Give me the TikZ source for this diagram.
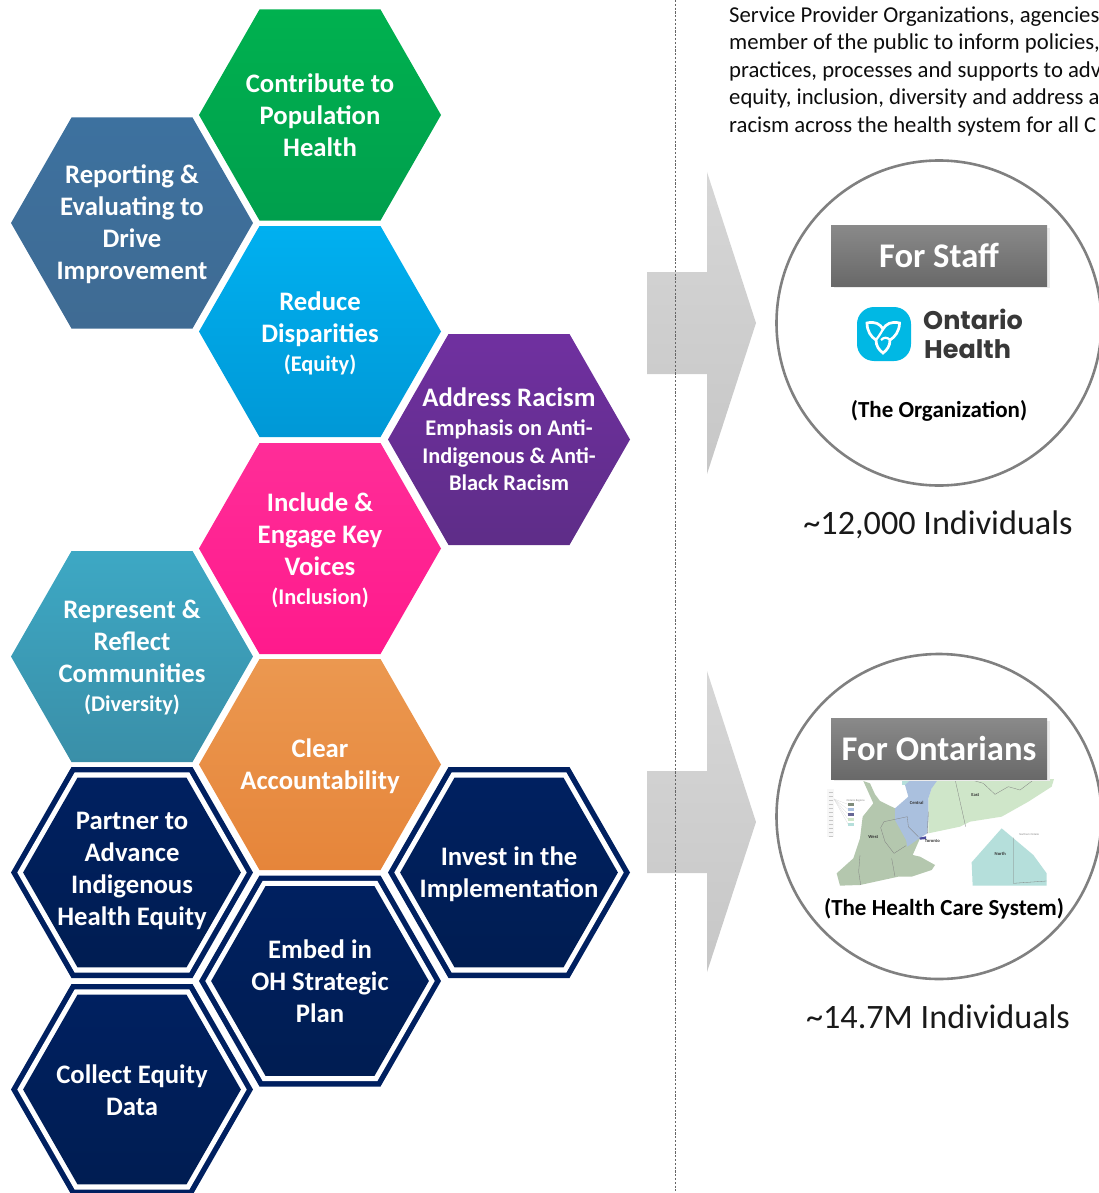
\documentclass[tikz,border=0pt]{standalone}
\usepackage{fontspec}
\setmainfont{Carlito}
\newfontfamily\ohfont{Poppins}
\definecolor{gA}{HTML}{00B14F}\definecolor{gB}{HTML}{009F4D}
\definecolor{bA}{HTML}{3D719F}\definecolor{bB}{HTML}{3F6B93}
\definecolor{cA}{HTML}{00B0F0}\definecolor{cB}{HTML}{0098D6}
\definecolor{pA}{HTML}{7030A0}\definecolor{pB}{HTML}{5E2D88}
\definecolor{kA}{HTML}{FF2D98}\definecolor{kB}{HTML}{FF1A8C}
\definecolor{tA}{HTML}{3DA8C4}\definecolor{tB}{HTML}{3A8FA8}
\definecolor{oA}{HTML}{EB9850}\definecolor{oB}{HTML}{E6853A}
\definecolor{nA}{HTML}{002060}\definecolor{nB}{HTML}{001D52}
\definecolor{logoC}{HTML}{00B8E4}
\definecolor{mapE}{HTML}{CFE6C9}\definecolor{mapW}{HTML}{B4C7AE}
\definecolor{mapC}{HTML}{AAC0DE}\definecolor{mapN}{HTML}{B5DFDB}
\tikzset{
  hextext/.style={text=white,align=center,font=\bfseries\fontsize{26.7}{32}\selectfont,inner sep=0pt},
  banner/.style={top color=black!46,bottom color=black!59},
  bannershadow/.style={fill=black!8},
  arrowshape/.style={top color=black!16,bottom color=black!22},
  ring/.style={draw=black!50,line width=2.6pt,fill=white,circle,minimum size=325pt,inner sep=0pt},
  bodytext/.style={anchor=base west,inner sep=0pt,font=\fontsize{22.7}{27}\selectfont,text=black!95},
  maplabel/.style={inner sep=0pt,font=\bfseries\fontsize{4.6}{5}\selectfont,text=black!80},
  maptiny/.style={inner sep=0pt,font=\fontsize{2.8}{3}\selectfont,text=black!50,align=center},
  mapline/.style={draw=black!50,line width=0.3pt},
}
\newcommand{\hexshape}[3]{(#1-#3*121,#2) -- (#1-#3*60.5,#2-#3*105.5) -- (#1+#3*60.5,#2-#3*105.5) -- (#1+#3*121,#2) -- (#1+#3*60.5,#2+#3*105.5) -- (#1-#3*60.5,#2+#3*105.5) -- cycle}
\newcommand{\hexa}[7]{%
  \path[top color=#4,bottom color=#5] \hexshape{#2}{#3}{1};
  \node[hextext] (#1) at (#2,#6) {#7};}
\newcommand{\navyhex}[5]{%
  \fill[nA] \hexshape{#2}{#3}{1};
  \fill[white] \hexshape{#2}{#3}{0.948};
  \path[top color=nA,bottom color=nB] \hexshape{#2}{#3}{0.9};
  \node[hextext] (#1) at (#2,#4) {#5};}
\newcommand{\smalltxt}[1]{{\fontsize{22.4}{28}\selectfont #1}}
\begin{document}
\begin{tikzpicture}[x=1pt,y=-1pt]
\useasboundingbox (0,0) rectangle (1099,1193);
\hexa{h1}{320}{115}{gA}{gB}{115}{Contribute to\\Population\\Health}
\hexa{h2}{132}{223}{bA}{bB}{224}{Reporting \&\\Evaluating to\\Drive\\Improvement}
\hexa{h3}{320}{331.5}{cA}{cB}{333}{Reduce\\Disparities\\[-3pt]\smalltxt{(Equity)}}
\hexa{h4}{509}{439.5}{pA}{pB}{439.5}{Address Racism\\[-3pt]\smalltxt{Emphasis on Anti-}\\[-4pt]\smalltxt{Indigenous \& Anti-}\\[-5pt]\smalltxt{Black Racism}}
\hexa{h5}{320}{548.5}{kA}{kB}{550}{Include \&\\Engage Key\\Voices\\[-3pt]\smalltxt{(Inclusion)}}
\hexa{h6}{132}{656.5}{tA}{tB}{658}{Represent \&\\Reflect\\Communities\\[-3pt]\smalltxt{(Diversity)}}
\hexa{h7}{320}{764.5}{oA}{oB}{766}{Clear\\Accountability}
\navyhex{h8}{132}{872.5}{871}{Partner to\\Advance\\Indigenous\\Health Equity}
\navyhex{h9}{509}{872.5}{874}{Invest in the\\Implementation}
\navyhex{h10}{320}{981}{981}{Embed in\\OH Strategic\\Plan}
\navyhex{h11}{132}{1089.5}{1090}{Collect Equity\\Data}
% arrows
\path[arrowshape] (647,272) -- (707,272) -- (707,172) -- (756,323) -- (707,474) -- (707,374) -- (647,374) -- cycle;
\path[arrowshape] (647,771) -- (707,771) -- (707,671) -- (756,822) -- (707,972) -- (707,873) -- (647,873) -- cycle;
% divider
\coordinate (dtop) at (675,0);
\coordinate (dbot) at (675,1191);
\draw[black!60,line width=0.9pt,dash pattern=on 2.2pt off 1.6pt] (dtop) -- (dbot);
% body text
\node[bodytext] (t1) at (729,23) {Service Provider Organizations, agencies};
\node[bodytext] (t2) at (729,50) {member of the public to inform policies,};
\node[bodytext] (t3) at (729,78) {practices, processes and supports to adv};
\node[bodytext] (t4) at (729,105) {equity, inclusion, diversity and address a};
\node[bodytext] (t5) at (729,133) {racism across the health system for all C};
% circles
\node[ring] (c1) at (939,323) {};
\node[ring] (c2) at (939,816.5) {};
% staff banner
\fill[bannershadow] (834,228) rectangle (1050,288);
\path[banner] (831,225) rectangle (1047,286);
\node[text=white,inner sep=0pt,font=\bfseries\fontsize{34.6}{40}\selectfont] (fs) at (939,255.5) {For Staff};
% logo
\fill[rounded corners=17pt,logoC] (857,307) rectangle (911,361);
\draw[white,line width=2.7pt,line join=miter] (867,323) .. controls (875,321) and (880,324) .. (883,329) .. controls (886,324) and (891,321) .. (899.5,323) .. controls (899.5,331) and (895,337) .. (890,340) .. controls (890,346) and (887,350) .. (883,353) .. controls (879,350) and (876,346) .. (876,340) .. controls (871,337) and (867,331) .. (867,323) -- cycle;
\draw[white,line width=2.2pt,line join=round] (883,329) .. controls (881,333) and (879,336) .. (876,340);
\draw[white,line width=2.2pt,line join=round] (890,340) .. controls (887,337) and (884,337) .. (881,340);
\node[anchor=base west,inner sep=0pt,text=black!78,font=\ohfont\bfseries\fontsize{25.5}{29}\selectfont] (oh1) at (923,329) {Ontario};
\node[anchor=base west,inner sep=0pt,text=black!78,font=\ohfont\bfseries\fontsize{25.5}{29}\selectfont] (oh2) at (924,358) {Health};
\node[inner sep=0pt,font=\bfseries\fontsize{23}{28}\selectfont] (org) at (939,411) {(The Organization)};
\node[inner sep=0pt,font=\fontsize{34.2}{40}\selectfont,text=black!90] (n1) at (938,525) {\textasciitilde 12,000 Individuals};
% map (drawn in units of a 3x crop whose corner is at 820,775)
\begin{scope}[shift={(820,775)},x=0.3333pt,y=-0.3333pt]
\fill[black!3] (22,42) rectangle (42,186);
\foreach \yy in {52,64,...,184} \draw[black!22,line width=0.3pt] (26,\yy) -- (40,\yy);
\fill[black!30!mapW] (84,84) rectangle (102,93);
\fill[mapC] (84,99) rectangle (102,108);
\fill[blue!30!black!60] (84,114) rectangle (102,123);
\fill[mapE] (84,129) rectangle (102,138);
\fill[mapN] (84,143) rectangle (102,152);
\foreach \yy in {88,103,118,133,147} \draw[black!14,line width=0.25pt] (42,72) -- (84,\yy);
\fill[mapN] (245,0) rectangle (285,30);
\fill[mapE] (345,12) -- (702,12) -- (695,35) -- (625,80) -- (545,125) -- (450,140) -- (420,155) -- (325,175) -- (325,70) -- (335,40) -- cycle;
\fill[mapW] (130,18) -- (150,25) -- (165,58) -- (180,78) -- (225,100) -- (225,132) -- (262,125) -- (262,180) -- (300,190) -- (278,240) -- (300,245) -- (345,270) -- (335,285) -- (275,305) -- (235,305) -- (120,330) -- (60,332) -- (50,295) -- (100,250) -- (120,190) -- (128,125) -- (160,85) -- cycle;
\fill[mapC] (255,30) -- (275,12) -- (355,12) -- (335,40) -- (325,70) -- (325,130) -- (322,175) -- (298,190) -- (262,215) -- (258,195) -- (225,135) -- (225,100) -- (265,65) -- cycle;
\fill[mapN] (545,160) -- (640,240) -- (680,295) -- (680,332) -- (458,332) -- (455,262) -- cycle;
\draw[mapline] (405,12) -- (437,155);
\draw[mapline] (445,12) -- (490,25) -- (525,58) -- (565,35) -- (600,45) -- (640,15);
\draw[mapline] (580,188) -- (580,325) -- (680,318);
\draw[mapline] (192,140) -- (182,158) -- (195,200) -- (222,235) -- (258,212);
\draw[mapline] (192,140) -- (262,125) -- (265,155) -- (295,185);
\draw[mapline] (215,250) -- (225,305);
\draw[mapline] (120,240) -- (116,290) -- (122,330);
\draw[mapline] (325,110) -- (322,175);
\fill[blue!45!black!70] (298,188) -- (318,184) -- (318,192) -- (300,194) -- cycle;
\node[maplabel] (m1) at (290,85) {Central};
\node[maplabel] (m2) at (466,60) {East};
\node[maplabel] (m3) at (160,187) {West};
\node[maplabel] (m4) at (337,198) {Toronto};
\node[maplabel] (m5) at (541,238) {North};
\node[maptiny] (m6) at (628,179) {Northern Ontario};
\node[maptiny] (m7) at (107,77) {Ontario Regions};
\end{scope}
% ontarians banner
\fill[bannershadow] (834,721) rectangle (1050,781);
\path[banner] (831,718) rectangle (1047,779);
\node[text=white,inner sep=0pt,font=\bfseries\fontsize{34.6}{40}\selectfont] (fo) at (939,748.5) {For Ontarians};
\node[inner sep=0pt,font=\bfseries\fontsize{23}{28}\selectfont] (hcs) at (944,909) {(The Health Care System)};
\node[inner sep=0pt,font=\fontsize{34.2}{40}\selectfont,text=black!90] (n2) at (938,1017) {\textasciitilde 14.7M Individuals};
\end{tikzpicture}
\end{document}
